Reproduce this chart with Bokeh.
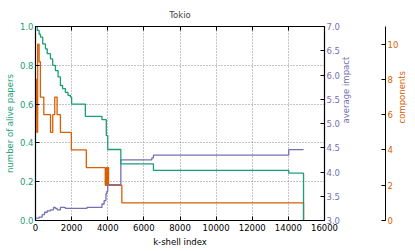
import math
from bokeh.plotting import figure
from bokeh.models import (LinearAxis, Range1d, FixedTicker, PrintfTickFormatter)
from bokeh.embed import file_html
from bokeh.resources import INLINE

# ---- data ----
title = "Tokio"
alive_k = [0, 100, 200, 276, 400, 552, 650, 828, 950, 1103, 1250, 1380, 1500,
           1655, 1800, 1931, 2000, 2760, 3680, 3920, 4000, 4725, 6530, 14020, 14840, 14840]
alive_v = [1.0, 0.98, 0.96, 0.945, 0.91, 0.885, 0.86, 0.833, 0.80, 0.773, 0.74, 0.696, 0.68,
           0.66, 0.645, 0.636, 0.60, 0.537, 0.52, 0.438, 0.366, 0.292, 0.258, 0.244, 0.0, 0.0]

comp_k = [0, 30, 70, 120, 200, 270, 460, 830, 955, 1066, 1195, 1380, 1986, 2814,
          3862, 3920, 3960, 4010, 4045, 4780, 14840, 14840]
comp_v = [6, 8, 5, 10, 9, 7, 6, 5, 6, 7, 6, 5, 4, 3,
          2, 3, 2, 3, 2, 1, 0, 0]

impact_k = [0, 200, 370, 500, 650, 830, 1000, 1100, 1200, 1380, 1655, 2850, 3680, 3800,
            3900, 3950, 4000, 4725, 6440, 6530, 14020, 14840]
impact_v = [3.05, 3.07, 3.12, 3.17, 3.2, 3.22, 3.27, 3.25, 3.22, 3.27, 3.25, 3.27, 3.34, 3.41,
            3.55, 3.60, 3.74, 4.25, 4.29, 4.35, 4.46, 4.46]

x_ticks = [0, 2000, 4000, 6000, 8000, 10000, 12000, 14000, 16000]
alive_ticks = [0.0, 0.2, 0.4, 0.6, 0.8, 1.0]
impact_ticks = [3.0, 3.5, 4.0, 4.5, 5.0, 5.5, 6.0, 6.5, 7.0]
comp_ticks = [0, 2, 4, 6, 8, 10]

GREEN = "#1b9e77"
ORANGE = "#d95f02"
PURPLE = "#7570b3"
FONT = "DejaVu Sans"
FS = "8.5px"

p = figure(width=415, height=251, output_backend="svg", toolbar_location=None,
           x_range=Range1d(0, 16000), y_range=Range1d(0, 1),
           min_border_left=35, min_border_right=90, min_border_top=26, min_border_bottom=31)
p.extra_y_ranges = {"impact": Range1d(3, 7), "comp": Range1d(0, 11)}

p.title.text = title
p.title.align = "center"
p.title.text_font = FONT
p.title.text_font_size = "8.5px"
p.title.text_font_style = "normal"
p.title.standoff = 14

p.outline_line_color = "black"
p.outline_line_width = 1.2
p.background_fill_color = "white"
p.border_fill_color = "white"

p.xgrid.ticker = FixedTicker(ticks=x_ticks)
p.ygrid.ticker = FixedTicker(ticks=alive_ticks)
for g in (p.xgrid, p.ygrid):
    g.grid_line_color = "#888888"
    g.grid_line_dash = "1 2"
    g.grid_line_width = 1


def style_axis(ax, color, label):
    ax.axis_label = label
    ax.axis_label_text_font = FONT
    ax.axis_label_text_font_size = FS
    ax.axis_label_text_font_style = "normal"
    ax.axis_label_text_color = color
    ax.axis_label_standoff = 3
    ax.major_label_text_font = FONT
    ax.major_label_text_font_size = FS
    ax.major_label_text_color = color
    ax.major_label_standoff = 2
    ax.major_tick_in = 4
    ax.major_tick_out = 0
    ax.minor_tick_in = 0
    ax.minor_tick_out = 0
    ax.axis_line_color = "black"
    ax.major_tick_line_color = "black"


xa = p.xaxis[0]
xa.ticker = FixedTicker(ticks=x_ticks)
style_axis(xa, "black", "k-shell index")
xa.axis_label_standoff = 3
xa.major_label_standoff = 3

# inward ticks along the top spine (no labels)
top_ax = LinearAxis(ticker=FixedTicker(ticks=x_ticks), major_tick_in=4, major_tick_out=0,
                    minor_tick_in=0, minor_tick_out=0, major_label_standoff=0,
                    major_label_text_font_size="1px", major_label_text_alpha=0,
                    axis_line_color="black", major_tick_line_color="black")
p.add_layout(top_ax, "above")

ya = p.yaxis[0]
ya.ticker = FixedTicker(ticks=alive_ticks)
ya.formatter = PrintfTickFormatter(format="%.1f")
style_axis(ya, GREEN, "number of alive papers")
ya.axis_label_standoff = 2

ax_imp = LinearAxis(y_range_name="impact", ticker=FixedTicker(ticks=impact_ticks),
                    formatter=PrintfTickFormatter(format="%.1f"))
style_axis(ax_imp, PURPLE, "average impact")
ax_imp.axis_label_orientation = math.pi / 2
p.add_layout(ax_imp, "right")

spacer = LinearAxis(y_range_name="comp", ticker=FixedTicker(ticks=[5]),
                    major_tick_out=26, major_tick_in=0, minor_tick_out=0, minor_tick_in=0,
                    major_label_standoff=0, major_label_text_font_size="1px",
                    major_label_text_alpha=0, axis_line_color=None,
                    major_tick_line_color=None)
p.add_layout(spacer, "right")

ax_comp = LinearAxis(y_range_name="comp", ticker=FixedTicker(ticks=comp_ticks),
                     formatter=PrintfTickFormatter(format="%d"))
style_axis(ax_comp, ORANGE, "components")
ax_comp.major_label_standoff = 2
ax_comp.axis_label_standoff = 1
ax_comp.axis_label_orientation = math.pi / 2
p.add_layout(ax_comp, "right")

p.step(comp_k, comp_v, mode="after", y_range_name="comp", line_color=ORANGE, line_width=1.3)
p.step(impact_k, impact_v, mode="after", y_range_name="impact", line_color=PURPLE, line_width=1.3)
p.step(alive_k, alive_v, mode="after", line_color=GREEN, line_width=1.3)

open("out.html", "w").write(file_html(p, INLINE))
